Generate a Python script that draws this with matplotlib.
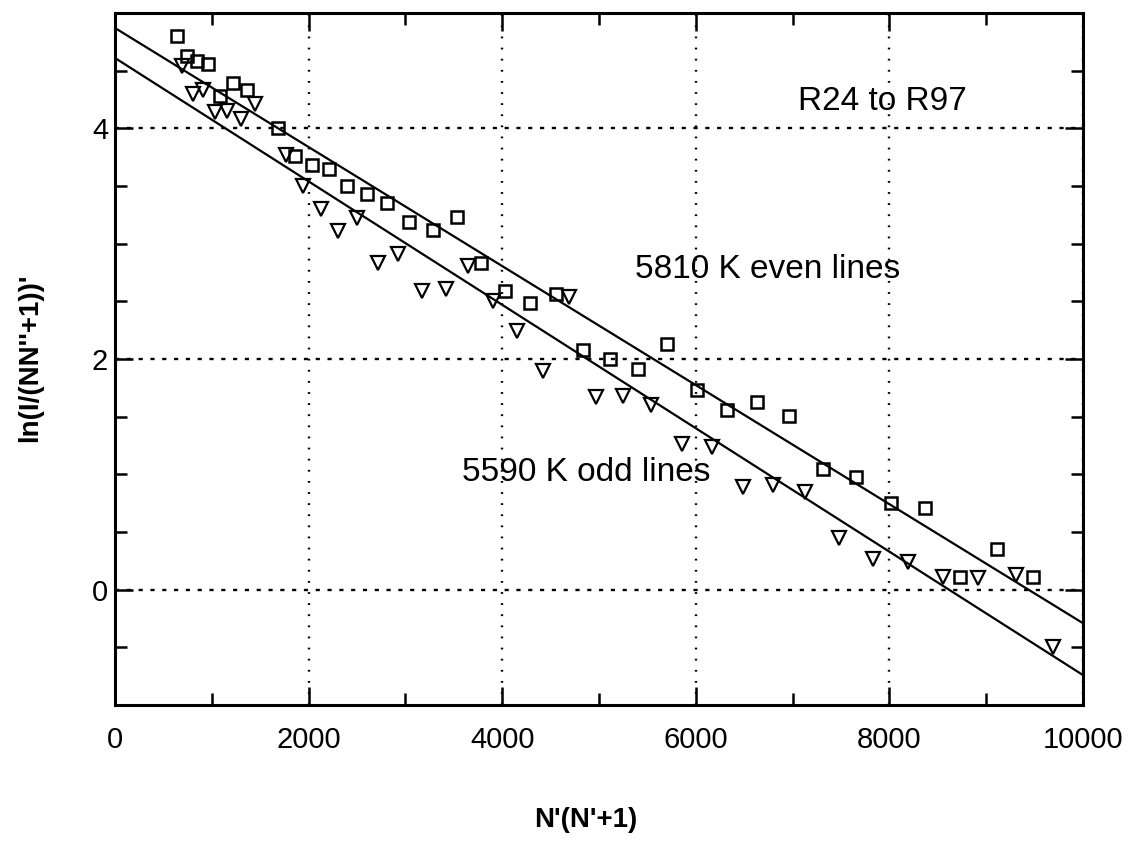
import numpy as np
import matplotlib
matplotlib.use("Agg")
from matplotlib import pyplot as plt
from matplotlib.ticker import MultipleLocator

# even lines (squares)
even_x = [637, 746, 850, 964, 1085, 1216, 1367, 1687, 1860, 2032, 2214, 2400,
          2606, 2813, 3041, 3282, 3530, 3778, 4029, 4287, 4556, 4831, 5114, 5406,
          5699, 6009, 6319, 6629, 6966, 7310, 7655, 8013, 8368, 8729, 9108, 9487]
even_y = [4.80, 4.63, 4.58, 4.56, 4.28, 4.39, 4.33, 4.00, 3.76, 3.68, 3.65, 3.50,
          3.43, 3.35, 3.19, 3.12, 3.23, 2.83, 2.59, 2.49, 2.56, 2.08, 2.00, 1.91,
          2.13, 1.73, 1.56, 1.63, 1.51, 1.05, 0.98, 0.75, 0.71, 0.11, 0.35, 0.11]

# odd lines (triangles)
odd_x = [689, 802, 906, 1033, 1153, 1298, 1446, 1767, 1939, 2125, 2307, 2504,
         2720, 2927, 3168, 3419, 3650, 3901, 4150, 4417, 4693, 4969, 5251, 5539,
         5854, 6164, 6484, 6794, 7128, 7483, 7834, 8195, 8550, 8918, 9308, 9693]
odd_y = [4.54, 4.30, 4.33, 4.14, 4.15, 4.08, 4.21, 3.77, 3.50, 3.30, 3.11, 3.22,
         2.83, 2.91, 2.59, 2.61, 2.81, 2.50, 2.24, 1.90, 2.54, 1.67, 1.68, 1.60,
         1.26, 1.24, 0.89, 0.91, 0.85, 0.45, 0.27, 0.24, 0.11, 0.10, 0.13, -0.50]

# linear fits: intercept, slope
even_fit = (4.87, -5.16e-4)
odd_fit = (4.61, -5.35e-4)

plt.rcParams["font.family"] = ["Liberation Sans", "DejaVu Sans"]
plt.rcParams["lines.scale_dashes"] = False

fig = plt.figure(figsize=(11.28, 8.41), dpi=100)
ax = fig.add_axes([0.102, 0.1617, 0.858, 0.8228])

xf = np.array([0, 10000])
ax.plot(xf, even_fit[0] + even_fit[1] * xf, color="black", lw=1.6)
ax.plot(xf, odd_fit[0] + odd_fit[1] * xf, color="black", lw=1.6)

ax.plot(even_x, even_y, "s", ms=8, mfc="none", mec="black", mew=1.8)
ax.plot(odd_x, odd_y, "v", ms=9.5, mfc="none", mec="black", mew=1.6)

ax.set_xlim(0, 10000)
ax.set_ylim(-1, 5)
ax.xaxis.set_major_locator(MultipleLocator(2000))
ax.xaxis.set_minor_locator(MultipleLocator(1000))
ax.yaxis.set_major_locator(MultipleLocator(2))
ax.yaxis.set_minor_locator(MultipleLocator(0.5))

ax.tick_params(which="both", direction="in", top=True, right=True, width=1.8,
               labelsize=21)
ax.tick_params(which="major", length=13)
ax.tick_params(which="minor", length=8.5)
ax.tick_params(axis="x", pad=15)
ax.tick_params(axis="y", pad=5)

for s in ax.spines.values():
    s.set_linewidth(2.2)

ax.xaxis.grid(True, color="black", lw=1.7, linestyle=(0, (1.3, 6.7)))
ax.yaxis.grid(True, color="black", lw=1.7, linestyle=(0, (3, 5.5)))

ax.text(7056, 4.23, "R24 to R97", fontsize=24, ha="left", va="center")
ax.text(5372, 2.78, "5810 K even lines", fontsize=24, ha="left", va="center")
ax.text(3585, 1.02, "5590 K odd lines", fontsize=24, ha="left", va="center")

fig.text(0.519, 0.025, "N'(N'+1)", fontsize=20, fontweight="bold",
         ha="center", va="center")
fig.text(0.027, 0.575, "ln(I/(NN''+1))'", fontsize=20, fontweight="bold",
         rotation=90, ha="center", va="center")

plt.savefig("out.png", dpi=100)
